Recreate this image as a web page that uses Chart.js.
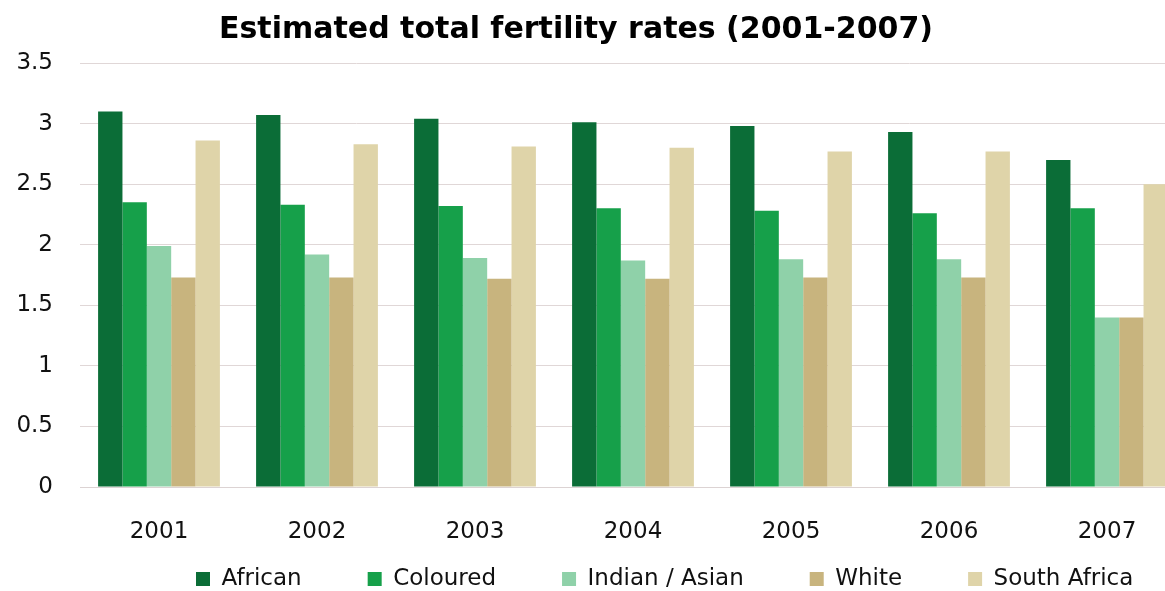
<!DOCTYPE html>
<html>
<head>
<meta charset="utf-8">
<title>Estimated total fertility rates (2001-2007)</title>
<script src="https://cdn.jsdelivr.net/npm/chart.js@4/dist/chart.umd.min.js"></script>
<style>
  html, body { margin: 0; padding: 0; background: #ffffff; overflow: hidden; }
  #wrap { width: 1165px; height: 591px; overflow: hidden; position: relative; }
  #wrap canvas { position: absolute; left: 0; top: 0; }
</style>
</head>
<body>
<div id="wrap"><canvas id="chart" width="1186" height="591" style="width:1186px;height:591px"></canvas></div>
<script>
// Years on the category axis
const years = ['2001', '2002', '2003', '2004', '2005', '2006', '2007'];

// Total fertility rate per population group
const african      = [3.10, 3.07, 3.04, 3.01, 2.98, 2.93, 2.70];
const coloured     = [2.35, 2.33, 2.32, 2.30, 2.28, 2.26, 2.30];
const indianAsian  = [1.99, 1.92, 1.89, 1.87, 1.88, 1.88, 1.40];
const white        = [1.73, 1.73, 1.72, 1.72, 1.73, 1.73, 1.40];
const southAfrica  = [2.86, 2.83, 2.81, 2.80, 2.77, 2.77, 2.50];

// Value axis ticks
const yTicks = [0, 0.5, 1, 1.5, 2, 2.5, 3, 3.5];

const seriesNames = ['African', 'Coloured', 'Indian / Asian', 'White', 'South Africa'];
const seriesData = [african, coloured, indianAsian, white, southAfrica];
const seriesColors = ['#0b6d37', '#16a04a', '#8fd1a9', '#c8b47e', '#dfd4a9'];

const FONT = "'DejaVu Sans', Verdana, sans-serif";
const LEGEND_PAD = 66;
const LEGEND_FONT = 23;

// Places the title and the legend row after the layout pass
const placeBoxes = {
  id: 'placeBoxes',
  afterLayout(chart, args, opts) {
    const t = chart.titleBlock;
    if (t) { t.left += opts.titleShift; t.right += opts.titleShift; }
    const l = chart.legend;
    if (l) {
      const w = l.right - l.left;
      l.left = opts.legendStart - LEGEND_PAD;
      l.right = l.left + w;
      l.top = opts.legendMid - LEGEND_PAD - LEGEND_FONT / 2;
      l.bottom = chart.height;
      l.width = l.right - l.left;
      l.height = l.bottom - l.top;
    }
  }
};

new Chart(document.getElementById('chart'), {
  type: 'bar',
  data: {
    labels: years,
    datasets: seriesNames.map((name, i) => ({
      label: name,
      data: seriesData[i],
      backgroundColor: seriesColors[i],
      borderWidth: 0,
      categoryPercentage: 0.771,
      barPercentage: 1.0
    }))
  },
  options: {
    responsive: false,
    animation: false,
    devicePixelRatio: 1,
    layout: { padding: { left: 16, right: 0, top: 12, bottom: 0 } },
    scales: {
      x: {
        afterFit(axis) { axis.height = 56; },
        grid: { display: false },
        border: { display: true, color: '#dcd3d3', width: 1 },
        ticks: { color: '#111111', font: { family: FONT, size: 23 }, padding: 23 }
      },
      y: {
        min: 0,
        max: 3.5,
        afterBuildTicks(axis) { axis.ticks = yTicks.map(v => ({ value: v })); },
        afterFit(axis) { axis.width = 64; },
        grid: { color: '#e0d7d7', lineWidth: 1, drawTicks: false },
        border: { display: false },
        ticks: {
          color: '#111111',
          font: { family: FONT, size: 23 },
          padding: 27,
          callback: v => String(v)
        }
      }
    },
    plugins: {
      title: {
        display: true,
        text: 'Estimated total fertility rates (2001-2007)',
        color: '#000000',
        font: { family: FONT, size: 30, weight: 'bold' },
        padding: { top: 0, bottom: 15 }
      },
      legend: {
        position: 'bottom',
        align: 'start',
        maxHeight: 48,
        labels: {
          color: '#111111',
          font: { family: FONT, size: LEGEND_FONT },
          boxWidth: 14,
          boxHeight: 14,
          padding: LEGEND_PAD
        }
      },
      tooltip: { enabled: false },
      placeBoxes: { titleShift: -25, legendStart: 196, legendMid: 579 }
    }
  },
  plugins: [placeBoxes]
});
</script>
</body>
</html>
